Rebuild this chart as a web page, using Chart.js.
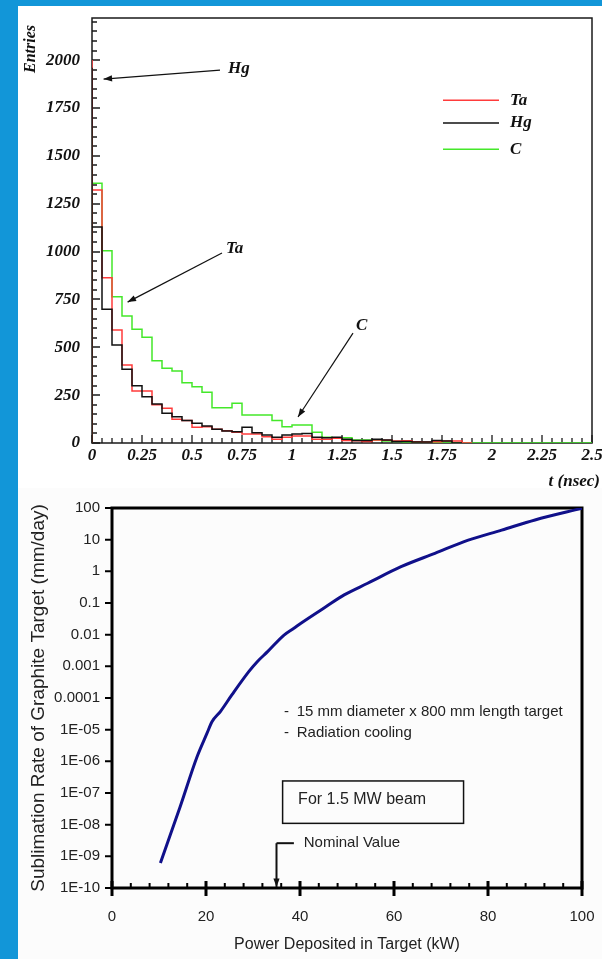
<html><head><script src="https://cdn.jsdelivr.net/npm/chart.js@4.4.3/dist/chart.umd.min.js"></script>
<style>
body { margin:0; width:602px; height:959px; background:#1296d8; position:relative; overflow:hidden; }
#top { position:absolute; left:18px; top:6px; background:#fff; }
#bot { position:absolute; left:18px; top:488px; background:#fcfcfc; }
</style></head>
<body>
<canvas id="top" width="584" height="482"></canvas>
<canvas id="bot" width="584" height="471"></canvas>
<script>
// ---- top: time distribution histograms, bin width 0.05 ns ----
BIN = 0.05
taVals = [2000,1321,863,590,407,272,272,200,181,124,118,82,85,72,64,56,47,47,33,20,30,37,37,20,20,25,13,12,8,16,14,10,12,6,5,6,10,10]
hgVals = [1960,1128,698,512,385,299,242,204,155,137,117,103,89,72,63,59,82,54,42,30,42,47,50,30,28,30,20,13,13,20,16,8,8,5,5,13,10]
cVals  = [1645,1357,1004,764,663,594,552,430,390,376,315,294,265,184,184,207,146,146,146,117,85,94,94,56,30,27,27,16,16,16,11,8,5,4,3,2]
yTickVals = [0,250,500,750,1000,1250,1500,1750,2000]
xTickVals = [0,0.25,0.5,0.75,1,1.25,1.5,1.75,2,2.25,2.5]
xTickLabels = ['0','0.25','0.5','0.75','1','1.25','1.5','1.75','2','2.25','2.5']
seriesNames = ['Ta','Hg','C']
seriesColors = ['#ff3b3b','#111111','#44e82a']

// ---- bottom: sublimation rate vs deposited power ----
powerKW   = [10.3,14.5,18.1,20.2,21.3,23.1,25.5,29.1,30.9,33.1,36.6,38.7,40.2,45.5,49.4,54.4,61.5,68.7,75.8,82.9,90,100]
rateMmDay = [6.2e-10,3.7e-8,1.4e-6,7.6e-6,1.8e-5,3.8e-5,1.25e-4,6.8e-4,1.4e-3,2.9e-3,9.7e-3,0.016,0.023,0.076,0.18,0.42,1.4,3.7,9.7,20,42,98]
logTickVals = [100,10,1,0.1,0.01,0.001,0.0001,1e-5,1e-6,1e-7,1e-8,1e-9,1e-10]
logTickLabels = ['100','10','1','0.1','0.01','0.001','0.0001','1E-05','1E-06','1E-07','1E-08','1E-09','1E-10']
powerTicks = [0,20,40,60,80,100]

function steps(vals, end) {
  pts = [{x:0, y:0}]
  vals.forEach((v,i) => pts.push({x:i*BIN, y:v}))
  pts.push({x:vals.length*BIN, y:0})
  if (end) pts.push({x:end, y:0})
  return pts
}

function arrow(ctx, x1, y1, x2, y2, head) {
  ctx.beginPath(); ctx.moveTo(x1,y1); ctx.lineTo(x2,y2); ctx.stroke()
  a = Math.atan2(y2-y1, x2-x1)
  ctx.beginPath()
  ctx.moveTo(x2,y2)
  ctx.lineTo(x2 - head*Math.cos(a-0.35), y2 - head*Math.sin(a-0.35))
  ctx.lineTo(x2 - head*Math.cos(a+0.35), y2 - head*Math.sin(a+0.35))
  ctx.closePath(); ctx.fill()
}

serif = 'Liberation Serif, Times New Roman, serif'
sans = 'Liberation Sans, Arial, sans-serif'

topDeco = {
  id: 'topDeco',
  beforeDatasetsDraw(chart) {
    const {ctx, chartArea: a, scales: {x, y}} = chart
    ctx.save()
    ctx.strokeStyle = '#1a1a1a'; ctx.lineWidth = 1.5
    ctx.strokeRect(a.left, a.top, a.right-a.left, a.bottom-a.top)
    ctx.lineWidth = 1.3
    ctx.beginPath()
    for (i = 0; i*50 <= 2200; i++) {
      py = Math.round(y.getPixelForValue(i*50))
      len = i % 5 == 0 ? 8 : 5
      ctx.moveTo(a.left, py); ctx.lineTo(a.left+len, py)
    }
    for (i = 0; i <= 50; i++) {
      px = Math.round(x.getPixelForValue(i*BIN))
      len = i % 5 == 0 ? 8 : 5
      ctx.moveTo(px, a.bottom); ctx.lineTo(px, a.bottom-len)
    }
    ctx.stroke()
    // axis titles
    ctx.fillStyle = '#111'
    ctx.font = 'italic bold 16px ' + serif
    ctx.save(); ctx.translate(13, 43); ctx.rotate(-Math.PI/2)
    ctx.textAlign = 'center'; ctx.textBaseline = 'middle'; ctx.fillText('Entries', 0, 0)
    ctx.restore()
    ctx.font = 'italic bold 17px ' + serif
    ctx.textAlign = 'right'; ctx.textBaseline = 'middle'
    ctx.fillText('t (nsec)', 582, 476)
    ctx.restore()
  },
  afterDatasetsDraw(chart) {
    const {ctx, scales: {x, y}} = chart
    ctx.save()
    // legend
    legY = [1791, 1671, 1535]
    ctx.lineWidth = 1.5
    ctx.font = 'italic bold 17px ' + serif
    ctx.textBaseline = 'middle'; ctx.textAlign = 'left'
    seriesNames.forEach((n,i) => {
      py = y.getPixelForValue(legY[i])
      ctx.strokeStyle = seriesColors[i]
      ctx.beginPath(); ctx.moveTo(x.getPixelForValue(1.755), py); ctx.lineTo(x.getPixelForValue(2.035), py); ctx.stroke()
      ctx.fillStyle = '#111'
      ctx.fillText(n, x.getPixelForValue(2.09), py)
    })
    // pointer arrows
    notes = [
      {t:'Hg', from:[0.64,1948], to:[0.058,1901], at:[0.68,1957]},
      {t:'Ta', from:[0.65,992], to:[0.178,736], at:[0.67,1018]},
      {t:'C',  from:[1.305,574], to:[1.03,136], at:[1.32,611]}
    ]
    ctx.strokeStyle = '#111'; ctx.fillStyle = '#111'; ctx.lineWidth = 1.2
    notes.forEach(n => {
      arrow(ctx, x.getPixelForValue(n.from[0]), y.getPixelForValue(n.from[1]),
                 x.getPixelForValue(n.to[0]), y.getPixelForValue(n.to[1]), 9)
      ctx.fillText(n.t, x.getPixelForValue(n.at[0]), y.getPixelForValue(n.at[1]))
    })
    ctx.restore()
  }
}

tickFont = {family: serif, size: 17, style: 'italic', weight: 'bold'}

new Chart(document.querySelector('#top'), {
  type: 'line',
  data: {
    datasets: [
      {label: 'Ta', data: steps(taVals), borderColor: seriesColors[0], order: 1},
      {label: 'Hg', data: steps(hgVals), borderColor: seriesColors[1], order: 0},
      {label: 'C', data: steps(cVals, 2.5), borderColor: seriesColors[2], order: 2}
    ].map(d => Object.assign(d, {stepped: 'after', borderWidth: 1.5, pointRadius: 0, fill: false}))
  },
  options: {
    responsive: false, animation: false,
    layout: {padding: {top: 12, right: 10, left: 0, bottom: 0}},
    plugins: {legend: {display: false}, tooltip: {enabled: false}},
    scales: {
      x: {
        type: 'linear', min: 0, max: 2.5,
        grid: {display: false, drawTicks: false}, border: {display: false},
        afterBuildTicks: s => { s.ticks = xTickVals.map(v => ({value: v})) },
        ticks: {autoSkip: false, maxRotation: 0, padding: 2, color: '#111', font: tickFont,
                callback: (v, i) => xTickLabels[i]},
        afterFit: s => { s.height = 45; s.paddingLeft = 0; s.paddingRight = 0 }
      },
      y: {
        min: 0, max: 2220,
        grid: {display: false, drawTicks: false}, border: {display: false},
        afterBuildTicks: s => { s.ticks = yTickVals.map(v => ({value: v})) },
        ticks: {padding: 12, color: '#111', font: tickFont, callback: v => String(v)},
        afterFit: s => { s.width = 74; s.paddingTop = 0; s.paddingBottom = 0 }
      }
    }
  },
  plugins: [topDeco]
})

botDeco = {
  id: 'botDeco',
  beforeDatasetsDraw(chart) {
    const {ctx, chartArea: a, scales: {x, y}} = chart
    ctx.save()
    ctx.strokeStyle = '#000'; ctx.lineWidth = 3
    ctx.strokeRect(a.left, a.top, a.right-a.left, a.bottom-a.top)
    ctx.lineWidth = 2
    ctx.beginPath()
    logTickVals.forEach(v => { py = y.getPixelForValue(v); ctx.moveTo(a.left-7, py); ctx.lineTo(a.left, py) })
    for (k = 0; k <= 100; k += 4) {
      if (k % 20 == 0) continue
      px = x.getPixelForValue(k); ctx.moveTo(px, a.bottom); ctx.lineTo(px, a.bottom-5)
    }
    ctx.stroke()
    ctx.lineWidth = 3
    ctx.beginPath()
    powerTicks.forEach(v => { px = x.getPixelForValue(v); ctx.moveTo(px, a.bottom-7); ctx.lineTo(px, a.bottom+8) })
    ctx.stroke()
    ctx.restore()
  },
  afterDatasetsDraw(chart) {
    const {ctx, scales: {x, y}} = chart
    ctx.save()
    ctx.fillStyle = '#222'; ctx.strokeStyle = '#111'
    ctx.font = '15px ' + sans
    ctx.textBaseline = 'middle'; ctx.textAlign = 'left'
    ctx.fillText('-', x.getPixelForValue(36.6), y.getPixelForValue(3.6e-5))
    ctx.fillText('15 mm diameter x 800 mm length target', x.getPixelForValue(39.3), y.getPixelForValue(3.6e-5))
    ctx.fillText('-', x.getPixelForValue(36.6), y.getPixelForValue(7.9e-6))
    ctx.fillText('Radiation cooling', x.getPixelForValue(39.3), y.getPixelForValue(7.9e-6))
    // boxed note
    bx1 = x.getPixelForValue(36.3), bx2 = x.getPixelForValue(74.8)
    by1 = y.getPixelForValue(2.4e-7), by2 = y.getPixelForValue(1.1e-8)
    ctx.lineWidth = 1.5
    ctx.strokeRect(bx1, by1, bx2-bx1, by2-by1)
    ctx.fillText('Nominal Value', x.getPixelForValue(40.8), y.getPixelForValue(2.6e-9))
    ctx.font = '16px ' + sans
    ctx.fillText('For 1.5 MW beam', x.getPixelForValue(39.6), y.getPixelForValue(6e-8))
    // nominal value marker
    ny = y.getPixelForValue(2.6e-9)
    ctx.lineWidth = 2; ctx.fillStyle = '#111'
    ctx.beginPath(); ctx.moveTo(x.getPixelForValue(38.7), ny); ctx.lineTo(x.getPixelForValue(35), ny); ctx.stroke()
    arrow(ctx, x.getPixelForValue(35), ny, x.getPixelForValue(35), y.getPixelForValue(1e-10)-1, 9)
    ctx.restore()
  }
}

new Chart(document.querySelector('#bot'), {
  type: 'line',
  data: {
    datasets: [{
      label: 'Sublimation rate',
      data: powerKW.map((p,i) => ({x: p, y: rateMmDay[i]})),
      borderColor: '#10108a', borderWidth: 3, pointRadius: 0,
      cubicInterpolationMode: 'monotone', fill: false
    }]
  },
  options: {
    responsive: false, animation: false,
    layout: {padding: {top: 20, right: 20, left: 0, bottom: 0}},
    plugins: {legend: {display: false}, tooltip: {enabled: false}},
    scales: {
      x: {
        type: 'linear', min: 0, max: 100,
        grid: {display: false, drawTicks: false}, border: {display: false},
        afterBuildTicks: s => { s.ticks = powerTicks.map(v => ({value: v})) },
        ticks: {autoSkip: false, maxRotation: 0, padding: 20, color: '#222', font: {family: sans, size: 15},
                callback: v => String(v)},
        title: {display: true, text: 'Power Deposited in Target (kW)', color: '#222',
                font: {family: sans, size: 16}, padding: {top: 0, bottom: 5}},
        afterFit: s => { s.height = 71; s.paddingLeft = 0; s.paddingRight = 0 }
      },
      y: {
        type: 'logarithmic', min: 1e-10, max: 100,
        grid: {display: false, drawTicks: false}, border: {display: false},
        afterBuildTicks: s => { s.ticks = logTickVals.map(v => ({value: v})) },
        ticks: {autoSkip: false, padding: 12, color: '#222', font: {family: sans, size: 15},
                callback: (v, i) => logTickLabels[logTickVals.indexOf(v)] ?? logTickLabels[i]},
        title: {display: true, text: 'Sublimation Rate of Graphite Target (mm/day)', color: '#222',
                font: {family: sans, size: 19}, padding: {top: 9, bottom: 0}},
        afterFit: s => { s.width = 94; s.paddingTop = 0; s.paddingBottom = 0 }
      }
    }
  },
  plugins: [botDeco]
})
</script>
</body></html>
